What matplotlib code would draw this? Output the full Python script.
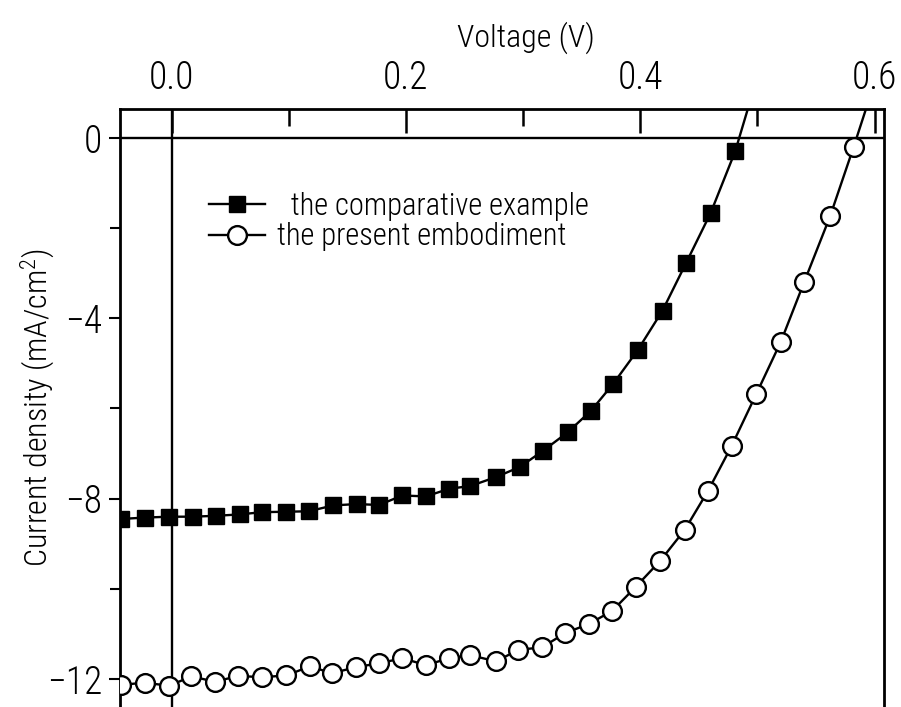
import matplotlib
matplotlib.use('Agg')
import matplotlib.pyplot as plt
from matplotlib.ticker import MultipleLocator

# narrow face first; matplotlib skips the ones that are not installed
plt.rcParams['font.family'] = ['Liberation Sans Narrow', 'Roboto Condensed', 'Archivo Narrow',
                               'PT Sans Narrow', 'Fira Sans Condensed', 'Roboto', 'DejaVu Sans']
plt.rcParams['font.weight'] = 'light'
plt.rcParams['axes.labelweight'] = 'light'
plt.rcParams['mathtext.default'] = 'regular'

# comparative example (filled squares)
comp_v = [-0.043, -0.023, -0.002, 0.018, 0.038, 0.058, 0.077, 0.098, 0.117,
          0.138, 0.158, 0.177, 0.197, 0.217, 0.237, 0.255, 0.277, 0.297,
          0.317, 0.338, 0.358, 0.377, 0.398, 0.419, 0.439, 0.460, 0.481]
comp_j = [-8.45, -8.42, -8.40, -8.40, -8.38, -8.35, -8.30, -8.29, -8.28,
          -8.15, -8.12, -8.14, -7.93, -7.95, -7.78, -7.72, -7.52, -7.30,
          -6.94, -6.53, -6.05, -5.45, -4.70, -3.83, -2.78, -1.67, -0.30]
comp_tail = (0.495, 0.92)

# present embodiment (open circles)
pres_v = [-0.043, -0.023, -0.002, 0.017, 0.037, 0.057, 0.077, 0.098, 0.118,
          0.137, 0.157, 0.177, 0.197, 0.217, 0.237, 0.255, 0.277, 0.296,
          0.316, 0.336, 0.356, 0.376, 0.396, 0.417, 0.438, 0.458, 0.478,
          0.499, 0.520, 0.540, 0.562, 0.582]
pres_j = [-12.13, -12.08, -12.15, -11.94, -12.06, -11.93, -11.96, -11.92, -11.72,
          -11.87, -11.74, -11.65, -11.54, -11.69, -11.54, -11.47, -11.61, -11.35,
          -11.30, -10.98, -10.78, -10.49, -9.96, -9.38, -8.69, -7.82, -6.83,
          -5.68, -4.52, -3.19, -1.74, -0.21]
pres_tail = (0.596, 0.91)

labels = ['  the comparative example', 'the present embodiment']
x_ticks = [0.0, 0.2, 0.4, 0.6]
y_ticks = [0, -4, -8, -12]

fig = plt.figure(figsize=(9.01, 7.07), dpi=100)
ax = fig.add_axes([0.1332, 0.0, 0.8479, 0.8458])

ax.axhline(0, color='black', lw=1.7, zorder=1)
ax.axvline(0, color='black', lw=1.7, zorder=1)

# connecting curves run a little past the last point, up through the frame
ax.plot(comp_v + [comp_tail[0]], comp_j + [comp_tail[1]], color='black', lw=1.7, zorder=2)
ax.plot(pres_v + [pres_tail[0]], pres_j + [pres_tail[1]], color='black', lw=1.7, zorder=2)
ax.plot(comp_v, comp_j, ls='none', marker='s', ms=12, mfc='black', mec='black', zorder=3)
ax.plot(pres_v, pres_j, ls='none', marker='o', ms=13.5, mfc='white', mec='black',
        mew=1.7, zorder=3)

# legend entries
h1, = ax.plot([], [], color='black', lw=1.7, marker='s', ms=12, mfc='black', mec='black')
h2, = ax.plot([], [], color='black', lw=1.7, marker='o', ms=13.5, mfc='white', mec='black', mew=1.7)
ax.legend([h1, h2], labels, loc='upper left', bbox_to_anchor=(0.1, 0.882),
          frameon=False, fontsize=22, handlelength=1.85, handletextpad=0.4,
          labelspacing=0.05, borderaxespad=0)

ax.set_xlim(-0.044, 0.608)
ax.set_ylim(-12.62, 0.64)

ax.xaxis.tick_top()
ax.xaxis.set_label_position('top')
ax.set_xticks(x_ticks)
ax.set_xticklabels(['%.1f' % v for v in x_ticks])
ax.xaxis.set_minor_locator(MultipleLocator(0.1))
ax.tick_params(axis='x', which='major', direction='in', length=17, width=1.8,
               labelsize=27, pad=9)
ax.tick_params(axis='x', which='minor', direction='in', length=12, width=1.8)

ax.set_yticks(y_ticks)
ax.set_yticklabels(['0' if v == 0 else '\u2212%d' % -v for v in y_ticks])
ax.yaxis.set_minor_locator(MultipleLocator(2))
ax.tick_params(axis='y', which='major', direction='out', length=8, width=1.5,
               labelsize=27, pad=5)
ax.tick_params(axis='y', which='minor', direction='out', length=7, width=1.5)

ax.set_xlabel('Voltage (V)', fontsize=23)
ax.xaxis.set_label_coords(0.531, 1.119)
ax.xaxis.label.set_va('center')
ax.set_ylabel('Current density (mA/cm$^2$)', fontsize=23)
ax.yaxis.set_label_coords(-0.108, 0.5)
ax.yaxis.label.set_va('center')

for side in ['top', 'left', 'right']:
    ax.spines[side].set_linewidth(2.0)
ax.spines['bottom'].set_visible(False)

fig.savefig('out.png', dpi=100)
